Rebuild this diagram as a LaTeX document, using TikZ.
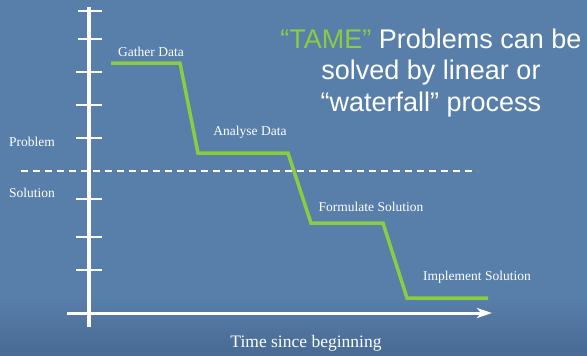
\documentclass[tikz,border=0pt]{standalone}
\usepackage{fontspec}
\setmainfont{Liberation Serif}
\newfontfamily\slidefont{Liberation Sans}
\usetikzlibrary{arrows.meta, positioning, calc}
\definecolor{slideblue}{RGB}{88,127,170}
\definecolor{slidedeep}{RGB}{72,106,148}
\definecolor{stepgreen}{RGB}{140,204,64}

\begin{document}
\begin{tikzpicture}[
  x=1pt, y=-1pt,
  axis/.style={white, line width=3.4pt},
  tick/.style={white, line width=1.6pt},
  divider/.style={white, line width=1.5pt, dash pattern=on 7pt off 5pt},
  waterfall/.style={stepgreen, line width=3.5pt, line join=miter},
  phase/.style={text=white, inner sep=0pt, font=\fontsize{13.5}{16}\selectfont},
  side/.style={text=white, inner sep=0pt, font=\fontsize{13.5}{16}\selectfont}
]

% slide background
\fill[slideblue] (0,0) rectangle (587,356);
\shade[top color=slideblue, bottom color=slidedeep] (0,296) rectangle (587,356);
\useasboundingbox (0,0) rectangle (587,356);

% axes
\coordinate (ytop) at (89,7);
\coordinate (ybot) at (89,327);
\coordinate (xleft) at (67,313);
\coordinate (xright) at (492,313);
\draw[axis] (ybot) -- (ytop);
\draw[axis, line width=3pt, -{Stealth[length=15pt, width=10pt, inset=4pt]}] (xleft) -- (xright);
\foreach \ty/\tl in {11/78, 39/78, 72/76, 105/76, 138/76, 199/76, 237/76, 270/76}
  \draw[tick] (\tl,\ty) -- (102,\ty);

% problem / solution split
\coordinate (splitL) at (21,171);
\coordinate (splitR) at (477,171);
\draw[divider] (splitL) -- (splitR);
\node[side] (problem) at (32,142) {Problem};
\node[side] (solution) at (32,193) {Solution};

% the stages
\coordinate (s1) at (111,63);
\coordinate (s2) at (180,63);
\coordinate (s3) at (198,153);
\coordinate (s4) at (288,153);
\coordinate (s5) at (311,223);
\coordinate (s6) at (383,223);
\coordinate (s7) at (407,298);
\coordinate (s8) at (488,298);
\draw[waterfall] (s1) -- (s2) -- (s3) -- (s4) -- (s5) -- (s6) -- (s7) -- (s8);

\node[phase] (gather) at (151,52) {Gather Data};
\node[phase] (analyse) at (250,132) {Analyse Data};
\node[phase] (formulate) at (371,207) {Formulate Solution};
\node[phase] (implement) at (477,277) {Implement Solution};

\node[text=white, inner sep=0pt, font=\fontsize{17.5}{20}\selectfont] (timeaxis) at (306,343) {Time since beginning};

% remark on the right
\node[text=white, inner sep=0pt, align=center, anchor=north,
      font=\slidefont\fontsize{27}{31.5}\selectfont] (tame) at (431,28.5)
  {\textcolor{stepgreen}{“TAME”} Problems can be\\ solved by linear or\\ “waterfall” process};

\end{tikzpicture}
\end{document}
